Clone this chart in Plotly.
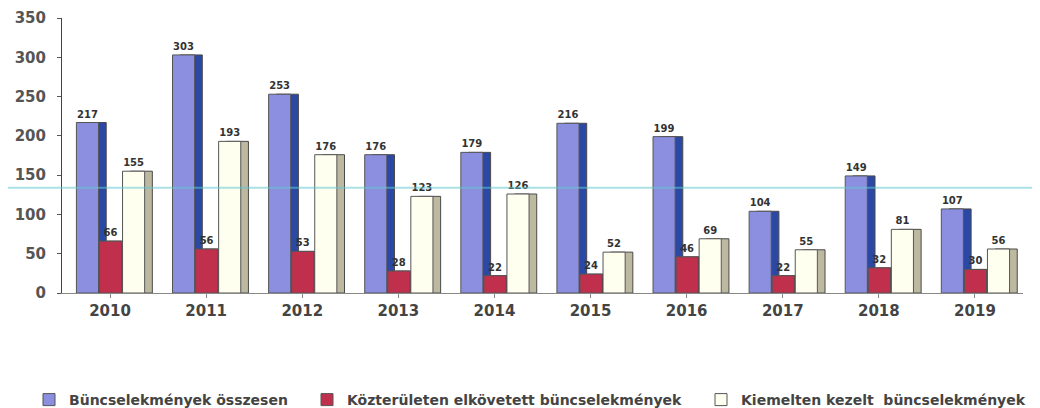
import plotly.graph_objects as go

years = ["2010", "2011", "2012", "2013", "2014", "2015", "2016", "2017", "2018", "2019"]
total = [217, 303, 253, 176, 179, 216, 199, 104, 149, 107]
public = [66, 56, 53, 28, 22, 24, 46, 22, 32, 30]
priority = [155, 193, 176, 123, 126, 52, 69, 55, 81, 56]

names = ["Büncselekmények összesen",
         "Közterületen elkövetett büncselekmények",
         "Kiemelten kezelt  büncselekmények"]

series = [
    (total, names[0], "#8c8fe0", "#2a48a4", -0.35, "legend"),
    (public, names[1], "#c0304c", "#7e1a30", -0.11, "legend2"),
    (priority, names[2], "#fffff0", "#bdb9a0", 0.13, "legend3"),
]

# page has an 8px body margin, so the figure is sized to the remaining area
FW, FH = 1032, 400
L, R, T, B = 54, 17, 10, 115
PW = FW - L - R
PH = FH - T - B

FONT = "DejaVu Sans, sans-serif"
W = 0.23
fig = go.Figure()
for vals, name, face, side, off, leg in series:
    fig.add_trace(go.Bar(
        x=years, y=vals, offset=off + 0.08, width=W,
        marker=dict(color=side, line=dict(color="#4a4a4a", width=1)),
        showlegend=False, hoverinfo="skip"))
    fig.add_trace(go.Bar(
        x=years, y=vals, offset=off, width=W, name=name, legend=leg,
        marker=dict(color=face, line=dict(color="#555555", width=1)),
        text=[str(v) for v in vals], textposition="outside",
        textfont=dict(family=FONT, size=10, color="#333333", weight="bold"),
        cliponaxis=False))

def legpos(px):
    return dict(orientation="h", x=(px - L) / PW, xanchor="left",
                y=(T + PH - 392) / PH, yanchor="middle",
                font=dict(family=FONT, size=14, color="#444444", weight="bold"),
                itemwidth=30, bgcolor="rgba(0,0,0,0)", borderwidth=0,
                tracegroupgap=0)

fig.update_layout(
    width=FW, height=FH,
    barmode="overlay",
    paper_bgcolor="white", plot_bgcolor="white",
    margin=dict(l=L, r=R, t=T, b=B, autoexpand=False),
    font=dict(family=FONT, color="#444444"),
    uniformtext=dict(minsize=10, mode="show"),
    legend=legpos(21),
    legend2=legpos(299),
    legend3=legpos(693),
    shapes=[dict(type="line", xref="paper", yref="y", x0=-L / PW, x1=1 + R / PW,
                 y0=134, y1=134, line=dict(color="rgba(100,200,210,0.55)", width=2))],
)
fig.update_yaxes(range=[0, 350], dtick=50, showgrid=False, zeroline=False,
                 showline=True, linecolor="#444444", linewidth=1,
                 ticks="outside", ticklen=4, tickcolor="#555555",
                 ticklabelstandoff=8,
                 tickfont=dict(family=FONT, size=15, color="#555555", weight="bold"))
fig.update_xaxes(showgrid=False, showline=True, linecolor="#888888", linewidth=1,
                 ticks="outside", ticklen=4, tickcolor="#888888",
                 tickfont=dict(family=FONT, size=15, color="#444444", weight="bold"))

fig.write_html("out.html")
